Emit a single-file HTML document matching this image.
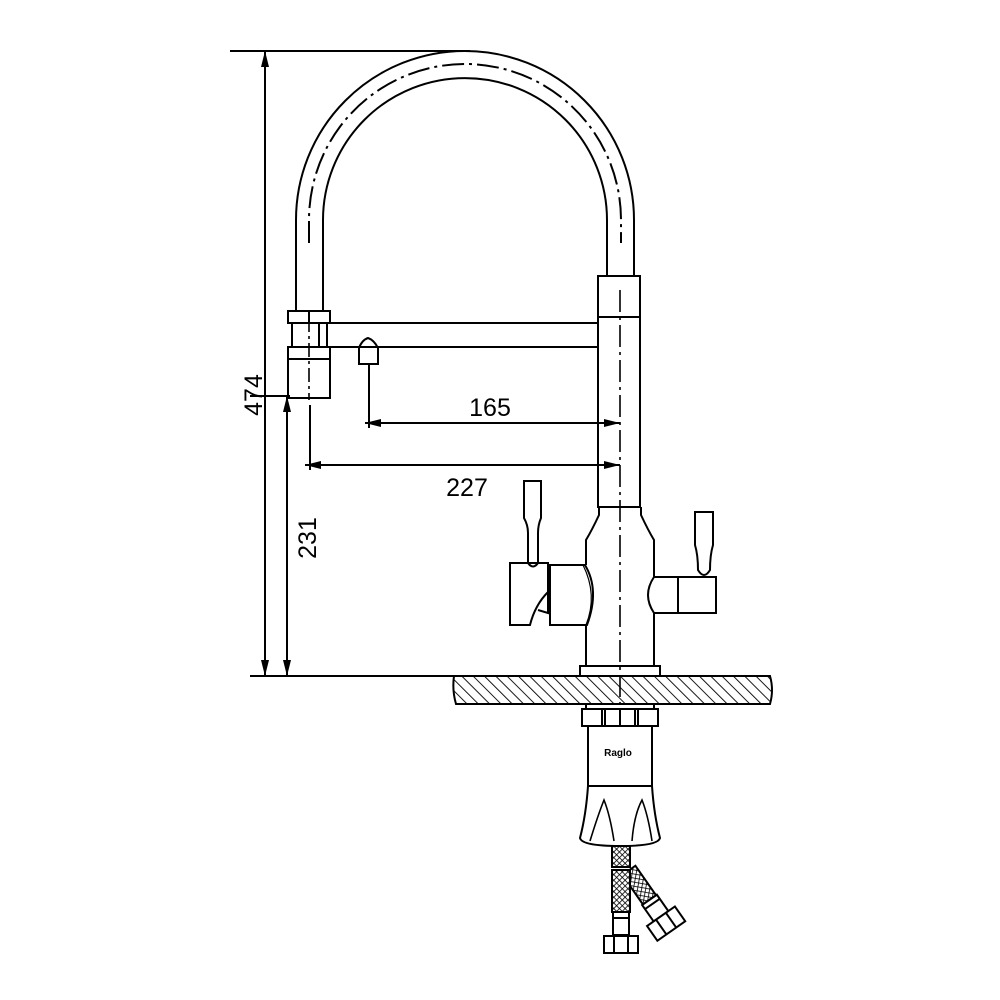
<!DOCTYPE html>
<html><head><meta charset="utf-8"><style>html,body{margin:0;padding:0;background:#fff}svg{display:block}</style></head>
<body>
<svg width="1000" height="1000" viewBox="0 0 1000 1000" xmlns="http://www.w3.org/2000/svg" font-family="Liberation Sans, sans-serif">
<defs>
<pattern id="hatch" width="8" height="8" patternUnits="userSpaceOnUse" patternTransform="rotate(-45)">
<line x1="0" y1="0" x2="0" y2="8" stroke="#000" stroke-width="1.8"/>
</pattern>
<pattern id="mesh" width="4" height="4" patternUnits="userSpaceOnUse" patternTransform="rotate(45)">
<rect width="4" height="4" fill="#fff"/>
<line x1="0" y1="0" x2="0" y2="4" stroke="#000" stroke-width="1.6"/>
<line x1="0" y1="0" x2="4" y2="0" stroke="#000" stroke-width="1.6"/>
</pattern>
<marker id="ar" markerWidth="16" markerHeight="8" refX="16" refY="4" orient="auto" markerUnits="userSpaceOnUse">
<path d="M0,0 L16,4 L0,8 Z" fill="#000"/>
</marker>
</defs>
<g fill="none" stroke="#000" stroke-width="2">
<line x1="230" y1="51" x2="470" y2="51"/>
<line x1="250" y1="676" x2="454" y2="676"/>
<line x1="265" y1="60" x2="265" y2="676" marker-end="url(#ar)"/>
<line x1="265" y1="660" x2="265" y2="51" marker-end="url(#ar)"/>
<line x1="287" y1="400" x2="287" y2="676" marker-end="url(#ar)"/>
<line x1="287" y1="660" x2="287" y2="396" marker-end="url(#ar)"/>
<line x1="250" y1="396" x2="290" y2="396"/>
<path d="M296,311 L296,220 A169,169 0 0 1 634,220 L634,276"/>
<path d="M323,311 L323,220 A142,142 0 0 1 607,220 L607,276"/>
<path d="M309,243 L309,220 A156,156 0 0 1 621,220 L621,243" stroke-dasharray="22,5,3,5"/>
<rect x="288" y="311" width="42" height="12"/>
<line x1="309" y1="311" x2="309" y2="323"/>
<rect x="292" y="323" width="35" height="24"/>
<line x1="319" y1="323" x2="319" y2="347"/>
<rect x="288" y="347" width="42" height="51"/>
<line x1="288" y1="359" x2="330" y2="359"/>
<line x1="309" y1="318" x2="309" y2="400" stroke-dasharray="14,4,3,4" stroke-width="1.6"/>
<line x1="330" y1="323" x2="598" y2="323"/>
<line x1="330" y1="347" x2="598" y2="347"/>
<path d="M359,364 L359,348 Q362,340 368,338 Q374,340 378,348 L378,364 Z"/>
<line x1="369" y1="364" x2="369" y2="428"/>
<line x1="620" y1="423" x2="365" y2="423" marker-end="url(#ar)"/>
<line x1="380" y1="423" x2="620" y2="423" marker-end="url(#ar)"/>
<line x1="310" y1="405" x2="310" y2="470"/>
<line x1="620" y1="465" x2="305" y2="465" marker-end="url(#ar)"/>
<line x1="330" y1="465" x2="620" y2="465" marker-end="url(#ar)"/>
<rect x="598" y="276" width="42" height="231"/>
<line x1="598" y1="317" x2="640" y2="317"/>
<path d="M599,507 L599,515 Q592,530 586,540 L586,565"/>
<path d="M641,507 L641,515 Q648,530 654,540 L654,578"/>
<path d="M586,625 L586,666"/>
<path d="M654,613 L654,666"/>
<rect x="580" y="666" width="80" height="10"/>
<line x1="620" y1="290" x2="620" y2="720" stroke-dasharray="22,5,3,5" stroke-width="1.6"/>
<path d="M524,481 L541,481 L541,518 Q538,525 538,533 L538,563 Q533,570 528,563 L528,533 Q528,525 524,518 Z"/>
<path d="M510,563 L548,563 L548,592 Q535,605 530,625 L510,625 Z"/>
<path d="M548,592 L548,613 L538,610"/>
<path d="M550,565 L585,565 Q600,590 587,625 L550,625 Z"/>
<path d="M583,565 Q598,595 586,625" stroke-width="1.2"/>
<path d="M695,512 L713,512 L713,545 Q710,555 710,570 Q704,580 698,570 Q698,555 695,545 Z"/>
<path d="M654,577 L678,577 L678,613 L654,613 Q642,595 654,577 Z"/>
<rect x="678" y="577" width="38" height="36"/>
<path d="M454,676 L770,676 Q774,690 770,704 L456,704 Q452,690 454,676 Z" fill="url(#hatch)"/>
<rect x="586" y="704" width="68" height="5"/>
<rect x="582" y="709" width="76" height="17"/>
<line x1="602" y1="709" x2="602" y2="726"/><line x1="605" y1="709" x2="605" y2="726"/>
<line x1="635" y1="709" x2="635" y2="726"/><line x1="638" y1="709" x2="638" y2="726"/>
<line x1="620" y1="709" x2="620" y2="726"/>
<rect x="588" y="726" width="64" height="60"/>
<path d="M588,786 Q586,815 580,838 Q582,846 620,846 Q658,846 660,838 Q654,815 652,786"/>
<path d="M590,841 Q598,815 604,800 Q610,815 614,841" stroke-width="1.6"/>
<path d="M632,841 Q634,815 642,800 Q648,815 652,841" stroke-width="1.6"/>
<rect x="612" y="846" width="18" height="21" fill="url(#mesh)"/>
<g transform="rotate(-35 630 872)">
<rect x="622" y="870" width="16" height="36" fill="url(#mesh)"/>
<rect x="621" y="906" width="18" height="20" fill="#fff"/>
<line x1="621" y1="911" x2="639" y2="911"/>
<rect x="613" y="926" width="34" height="18" fill="#fff"/>
<line x1="624" y1="926" x2="624" y2="944"/><line x1="636" y1="926" x2="636" y2="944"/>
</g>
<rect x="612" y="870" width="18" height="42" fill="url(#mesh)"/>
<rect x="613" y="912" width="16" height="23" fill="#fff"/>
<line x1="613" y1="918" x2="629" y2="918"/>
<rect x="604" y="936" width="34" height="17" fill="#fff"/>
<line x1="614" y1="936" x2="614" y2="953"/><line x1="628" y1="936" x2="628" y2="953"/>
</g>
<g font-size="25" fill="#000">
<text x="490" y="416" text-anchor="middle">165</text>
<text x="467" y="496" text-anchor="middle">227</text>
<text transform="translate(262,395) rotate(-90)" text-anchor="middle">474</text>
<text transform="translate(316,538) rotate(-90)" text-anchor="middle">231</text>
</g>
<text x="618" y="756" font-size="10" font-weight="bold" text-anchor="middle">Raglo</text>
</svg>
</body></html>
